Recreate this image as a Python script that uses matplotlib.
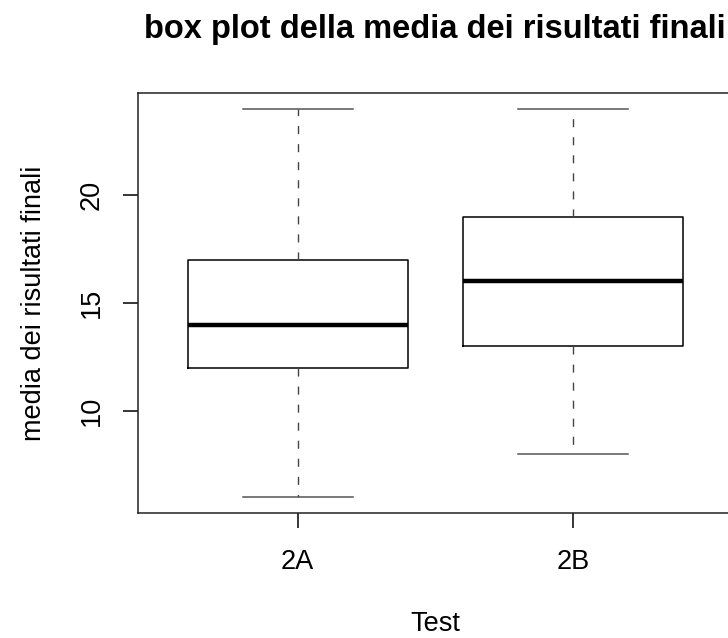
import matplotlib
matplotlib.use("Agg")
import matplotlib.pyplot as plt

# Data
groups = ["2A", "2B"]
whislo = [6, 8]
q1 = [12, 13]
med = [14, 16]
q3 = [17, 19]
whishi = [24, 24]
yticks = [10, 15, 20]

title = "box plot della media dei risultati finali"
xlabel = "Test"
ylabel = "media dei risultati finali"

plt.rcParams['font.family'] = ['Liberation Sans', 'DejaVu Sans']

W, H = 728, 638
fig = plt.figure(figsize=(W / 100, H / 100), dpi=100)
left, right, top, bottom = 138, 732.5, 93, 513
ax = fig.add_axes([left / W, 1 - bottom / H, (right - left) / W, (bottom - top) / H])

stats = []
for i, g in enumerate(groups):
    stats.append(dict(label=g, whislo=whislo[i], q1=q1[i], med=med[i],
                      q3=q3[i], whishi=whishi[i], fliers=[]))

positions = list(range(1, len(groups) + 1))
ax.bxp(stats, positions=positions, widths=0.8, capwidths=0.4,
       showfliers=False, patch_artist=False,
       boxprops=dict(color='black', linewidth=1.1),
       medianprops=dict(color='black', linewidth=3.2, solid_capstyle='butt'),
       whiskerprops=dict(color='#444444', linewidth=1.0, linestyle=(0, (5.8, 7.2))),
       capprops=dict(color='#555555', linewidth=1.1))

n = len(groups)
ax.set_xlim(0.5 - 0.04 * n, n + 0.5 + 0.04 * n)
rng = max(whishi) - min(whislo)
ax.set_ylim(min(whislo) - 0.04 * rng, max(whishi) + 0.04 * rng)

ax.set_xticks(positions)
ax.set_xticklabels(groups)
ax.set_yticks(yticks)
ax.set_yticklabels([str(t) for t in yticks], rotation=90, va='center')

ax.tick_params(axis='both', direction='out', length=11, width=1.1,
               labelsize=19.5, colors='black')
ax.tick_params(axis='x', pad=15)
ax.tick_params(axis='y', pad=13)
for s in ax.spines.values():
    s.set_linewidth(1.1)
    s.set_color('#222222')

fig.text((left + right) / 2 / W, 1 - 38 / H, title, ha='center', va='baseline',
         fontsize=23.5, fontweight='bold')
fig.text((left + right) / 2 / W, 1 - 631 / H, xlabel, ha='center', va='baseline',
         fontsize=19.5)
fig.text(41 / W, 1 - (top + bottom) / 2 / H, ylabel, ha='center', va='baseline',
         rotation=90, fontsize=19.5, rotation_mode='anchor')

fig.savefig("out.png", dpi=100)
